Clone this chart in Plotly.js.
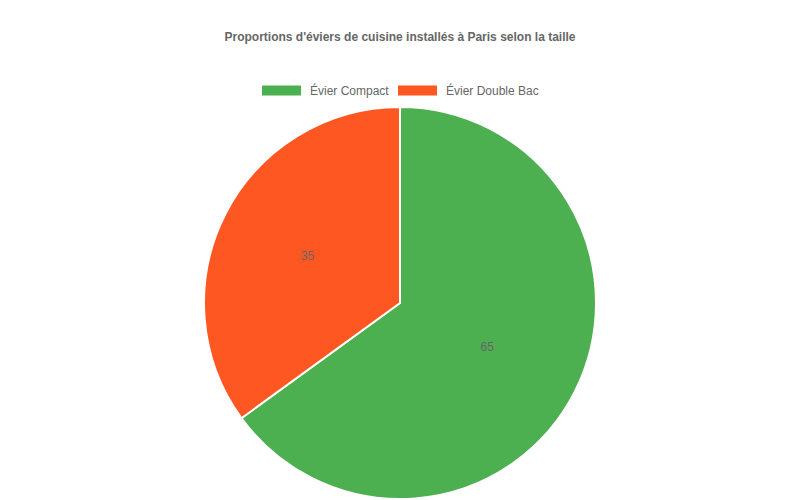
<!DOCTYPE html>
<html>
<head>
<meta charset="utf-8">
<script src="https://cdn.plot.ly/plotly-3.0.1.min.js"></script>
<style>
  body { margin: 0; background: #fff; }
  #chart { width: 800px; height: 500px; }
</style>
</head>
<body>
<div id="chart"></div>
<script>
var labels = ["Évier Compact", "Évier Double Bac"];
var values = [65, 35];
var colors = ["#4CAF50", "#FF5722"];

var W = 800, H = 500;
var fontFam = '"Liberation Sans", Arial, Helvetica, sans-serif';

// chart.js-like legend: wide boxes followed by labels
var legendBoxX = [262, 398];
var shapes = [];
var annotations = [];
for (var i = 0; i < labels.length; i++) {
    shapes.push({
        type: 'rect', xref: 'paper', yref: 'paper',
        x0: legendBoxX[i] / W, x1: (legendBoxX[i] + 39) / W,
        y0: 1 - 95.5 / H, y1: 1 - 85.5 / H,
        fillcolor: colors[i], line: {width: 0}
    });
    annotations.push({
        text: labels[i], xref: 'paper', yref: 'paper',
        x: (legendBoxX[i] + 46) / W, y: 1 - 90.5 / H,
        xanchor: 'left', yanchor: 'middle', showarrow: false,
        font: {family: fontFam, size: 12, color: '#666'}
    });
}

var trace = {
    type: 'pie',
    labels: labels,
    values: values,
    sort: false,
    direction: 'clockwise',
    rotation: 0,
    textinfo: 'value',
    textposition: 'inside',
    insidetextorientation: 'horizontal',
    textfont: {family: fontFam, size: 12, color: '#666'},
    marker: {colors: colors, line: {color: '#fff', width: 2}},
    domain: {x: [204 / W, 596 / W], y: [1 - 499 / H, 1 - 107 / H]},
    hoverinfo: 'label+value'
};

var layout = {
    width: W, height: H,
    margin: {l: 0, r: 0, t: 0, b: 0},
    paper_bgcolor: '#fff',
    showlegend: false,
    title: {
        text: "<b>Proportions d'éviers de cuisine installés à Paris selon la taille</b>",
        x: 0.5, xanchor: 'center',
        y: 1 - 37 / H, yanchor: 'middle',
        font: {family: fontFam, size: 12, color: '#666'}
    },
    shapes: shapes,
    annotations: annotations
};

Plotly.newPlot('chart', [trace], layout, {displayModeBar: false});
</script>
</body>
</html>
